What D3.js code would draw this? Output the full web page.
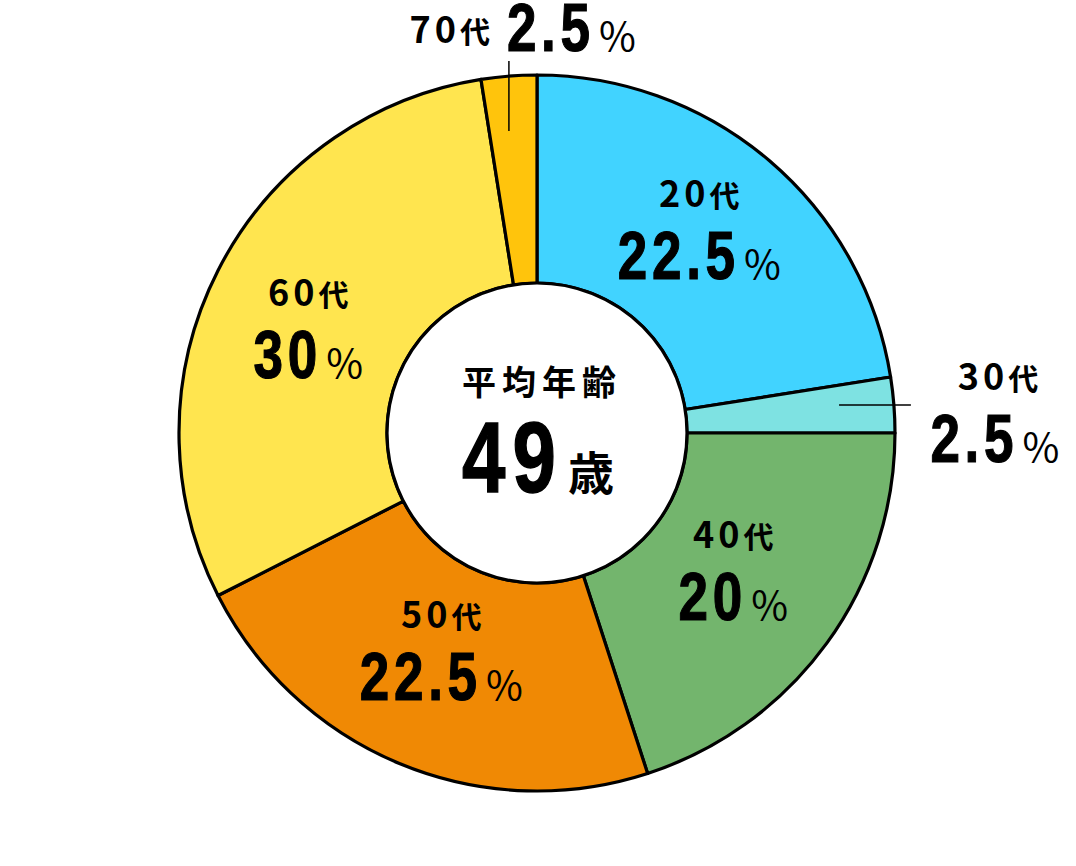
<!DOCTYPE html>
<html>
<head>
<meta charset="utf-8">
<script src="https://cdn.jsdelivr.net/npm/d3@7"></script>
<style>
  body { margin: 0; background: #fff; }
  svg { display: block; }
</style>
</head>
<body>
<div id="chart"></div>
<script>
// データ
const ageGroups = ["20代", "30代", "40代", "50代", "60代", "70代"];
const shares = [22.5, 2.5, 20, 22.5, 30, 2.5];
const shareLabels = ["22.5", "2.5", "20", "22.5", "30", "2.5"];
const sliceColors = ["#41D3FF", "#7EE2E2", "#73B56D", "#F08904", "#FFE54F", "#FFC40C"];
const centerTitle = "平均年齢";
const centerValue = "49";
const centerUnit = "歳";

const width = 1076, height = 866;
const cx = 537, cy = 433;
const rOuter = 358, rInner = 150;

const numFont = "'Liberation Sans', Arial, sans-serif";
const jpFont = "'Noto Sans CJK JP', 'Noto Sans', sans-serif";
const squeeze = 0.78;

const svg = d3.select("#chart").append("svg")
    .attr("width", width)
    .attr("height", height);

const g = svg.append("g").attr("transform", `translate(${cx},${cy})`);

const pie = d3.pie().sort(null).value(d => d);
const arcs = pie(shares);
const arc = d3.arc().innerRadius(rInner).outerRadius(rOuter);

g.selectAll("path.slice")
    .data(arcs)
    .enter().append("path")
    .attr("class", "slice")
    .attr("d", arc)
    .attr("fill", (d, i) => sliceColors[i])
    .attr("stroke", "#000")
    .attr("stroke-width", 3.2)
    .attr("stroke-linejoin", "round");

g.append("circle")
    .attr("r", rInner)
    .attr("fill", "#fff")
    .attr("stroke", "#000")
    .attr("stroke-width", 3.2);

// 大きい数字 + ％ を横に並べる（xは左端）
const BIG = 68, BIG_LS = 6, PCT = 40, PCT_GAP = 9;
function bigNumber(parent, x, baseline, value) {
    const num = parent.append("text")
        .attr("font-family", numFont)
        .attr("font-weight", "bold")
        .attr("font-size", BIG)
        .attr("letter-spacing", BIG_LS)
        .attr("fill", "#000")
        .attr("stroke", "#000")
        .attr("stroke-width", 1.2)
        .attr("transform", `translate(${x},${baseline}) scale(${squeeze},1)`)
        .text(value);
    const numW = (num.node().getComputedTextLength() - BIG_LS) * squeeze;
    const pct = parent.append("text")
        .attr("font-family", jpFont)
        .attr("font-weight", 400)
        .attr("font-size", PCT)
        .attr("x", x + numW + PCT_GAP)
        .attr("y", baseline)
        .attr("fill", "#000")
        .text("%");
    return numW + PCT_GAP + pct.node().getComputedTextLength();
}

function measureBig(value) {
    const tmp = svg.append("g").attr("opacity", 0);
    const w = bigNumber(tmp, 0, 0, value);
    tmp.remove();
    return w;
}

// 「20代」など：数字は背が高め、代は少し小さめ
function smallLabel(parent, x, y, text, anchor) {
    const ls = 4;
    const t = parent.append("text")
        .attr("font-family", jpFont)
        .attr("font-weight", "bold")
        .attr("letter-spacing", ls)
        .attr("fill", "#000")
        .attr("y", y);
    t.append("tspan").attr("font-size", 36).text(text.slice(0, -1));
    t.append("tspan").attr("font-size", 30).text(text.slice(-1));
    const w = t.node().getComputedTextLength() - ls;
    if (anchor === "middle") t.attr("x", x - w / 2);
    else if (anchor === "end") t.attr("x", x - w);
    else t.attr("x", x);
    return w;
}

const labelR = 250;
const nudge = { "60代": [-6, 22], "40代": [-6, 4] };
const outside = { "30代": "right", "70代": "top" };

arcs.forEach((a, i) => {
    const name = ageGroups[i];
    const mid = (a.startAngle + a.endAngle) / 2;
    const sx = Math.sin(mid), sy = -Math.cos(mid);
    const bigW = measureBig(shareLabels[i]);

    if (outside[name] === "right") {
        const ly = sy * rOuter;
        g.append("line")
            .attr("x1", sx * (rOuter - 55)).attr("y1", ly)
            .attr("x2", sx * rOuter + 17).attr("y2", ly)
            .attr("stroke", "#000").attr("stroke-width", 1.5);
        const bx = sx * rOuter + 17 + 84;
        smallLabel(g, bx + 3, ly - 15, name, "middle");
        bigNumber(g, bx - bigW / 2, ly + 57, shareLabels[i]);
    } else if (outside[name] === "top") {
        const lx = sx * rOuter;
        g.append("line")
            .attr("x1", lx).attr("y1", sy * (rOuter - 55))
            .attr("x2", lx).attr("y2", sy * rOuter - 15)
            .attr("stroke", "#000").attr("stroke-width", 1.5);
        const top = sy * rOuter - 15;
        smallLabel(g, lx - 19, top - 18, name, "end");
        bigNumber(g, lx - 2, top - 10, shareLabels[i]);
    } else {
        const n = nudge[name] || [0, 0];
        const px = sx * labelR + n[0], py = sy * labelR + n[1];
        smallLabel(g, px, py - 36, name, "middle");
        bigNumber(g, px - bigW / 2, py + 36, shareLabels[i]);
    }
});

// 中央
centerLabel();
function centerLabel() {
    const ls = 6;
    const t = g.append("text")
        .attr("font-family", jpFont)
        .attr("font-weight", "bold")
        .attr("font-size", 34)
        .attr("letter-spacing", ls)
        .attr("y", -38)
        .text(centerTitle);
    const w = t.node().getComputedTextLength() - ls;
    t.attr("x", 2 - w / 2);

    const ls2 = 9;
    const num = g.append("text")
        .attr("font-family", numFont)
        .attr("font-weight", "bold")
        .attr("font-size", 100)
        .attr("letter-spacing", ls2)
        .attr("stroke", "#000")
        .attr("stroke-width", 1.5);
    num.text(centerValue);
    const nw = (num.node().getComputedTextLength() - ls2) * squeeze;
    const unit = g.append("text")
        .attr("font-family", jpFont)
        .attr("font-weight", "bold")
        .attr("font-size", 46)
        .attr("y", 57)
        .text(centerUnit);
    const uw = unit.node().getComputedTextLength();
    const gap = 12;
    const x0 = 1 - (nw + gap + uw) / 2;
    num.attr("transform", `translate(${x0},59) scale(${squeeze},1)`);
    unit.attr("x", x0 + nw + gap);
}
</script>
</body>
</html>
